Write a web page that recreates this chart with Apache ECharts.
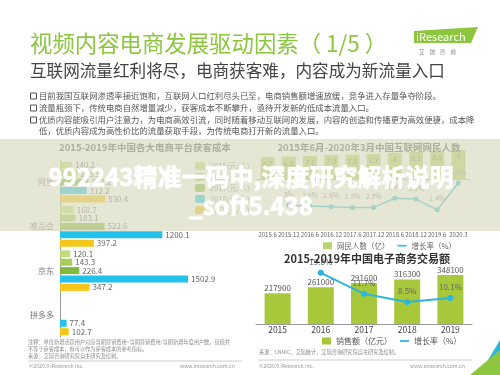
<!DOCTYPE html>
<html>
<head>
<meta charset="utf-8">
<script src="https://cdn.jsdelivr.net/npm/echarts@6/dist/echarts.min.js"></script>
<style>
html, body { margin: 0; padding: 0; background: #fff; }
#wrap { position: relative; width: 500px; height: 375px; }
#main, #mask { position: absolute; left: 0; top: 0; width: 500px; height: 375px; }
</style>
</head>
<body>
<div id="wrap">
	<div id="main"></div>
	<div id="mask"></div>
</div>
<script>
// 获客成本（元/人）
var costCategories = ['阿里', '唯品会', '京东', '拼多多'];
var costYears = ['2015(元/人)', '2016(元/人)', '2017(元/人)', '2018(元/人)', '2019(元/人)'];
var cost2015 = [140.2, 160.7, 120.1, null];
var cost2016 = [203.5, 183.1, 143.3, null];
var cost2017 = [333.2, 522.6, 226.4, null];
var cost2018 = [312.2, 1200.1, 1502.9, 77.4];
var cost2019 = [530.4, 397.2, 347.2, 102.7];
var costColors = ['#bfdc78', '#a5cf58', '#82b83e', '#22c2ea', '#f6c61a'];

// 网民人数
var netMonths = ['2015.6', '2015.12', '2016.6', '2016.12', '2017.6', '2017.12', '2018.6', '2018.12', '2019.6', '2020.3'];
var netUsers = [6.7, 6.9, 7.1, 7.3, 7.5, 7.7, 8.0, 8.3, 8.5, 9.0];
var netGrowth = [null, 3.0, 2.9, 2.8, 2.7, 2.7, 3.9, 3.8, 2.4, 5.9];

// 电子商务交易额
var ecYears = ['2015', '2016', '2017', '2018', '2019'];
var ecSales = [217900, 261000, 291600, 316300, 348100];
var ecGrowth = [null, 19.8, 11.7, 8.5, 10.1];

var FONT = "'Noto Sans CJK SC', 'Noto Sans', sans-serif";

var bullets = [
	'目前我国互联网渗透率接近饱和，互联网人口红利尽头已至，电商销售额增速放缓，竞争进入存量争夺阶段。',
	'流量瓶颈下，传统电商自然增量减少，获客成本不断攀升，亟待开发新的低成本流量入口。',
	'优质内容能吸引用户注意力，为电商高效引流，同时随着移动互联网的发展，内容的创造和传播更为高效便捷，成本降',
	'低，优质内容成为高性价比的流量获取手段，为传统电商打开新的流量入口。'
];

function txt(x, y, text, size, color) {
	return {
		type: 'text', x: x, y: y, z: 5,
		style: { text: text, fontSize: size, fill: color, fontFamily: FONT, textVerticalAlign: 'middle' }
	};
}

function costSeries(name, data, color) {
	return {
		name: name, type: 'bar', xAxisIndex: 0, yAxisIndex: 0,
		data: data, barWidth: 7, barGap: '20%',
		itemStyle: { color: color },
		label: { show: true, position: 'right', distance: 3, fontSize: 8, color: '#666', fontFamily: FONT }
	};
}

var graphics = [];
graphics.push(txt(30, 43, '视频内容电商发展驱动因素（ 1/5 ）', 22.4, '#8cc63f'));
graphics.push(txt(30, 71, '互联网流量红利将尽，电商获客难，内容成为新流量入口', 16.6, '#444'));
var by = [96, 108, 120, 131];
for (var i = 0; i < bullets.length; i++) {
	if (i < 3) {
		graphics.push({ type: 'rect', z: 5, shape: { x: 30.5, y: by[i] - 3, width: 6, height: 6 }, style: { fill: 'none', stroke: '#555', lineWidth: 1 } });
	}
	graphics.push(txt(39, by[i], bullets[i], 8.4, '#555'));
}
// logo
graphics.push({ type: 'polygon', z: 5, shape: { points: [[414, 31], [478, 27], [471, 43], [414, 43]] }, style: { fill: '#8cc63f' } });
graphics.push(txt(416, 36.5, 'iResearch', 11, '#fff'));
graphics.push(txt(419, 52, '艾    瑞    咨    询', 5.5, '#888'));

// notes & footers
graphics.push(txt(28, 342, '注释：单位新增活跃用户对应当期营销费用=当期营销费用/当期新增年度用户数，该值并', 5.2, '#888'));
graphics.push(txt(28, 349, '不等于获客成本，但可以作为获客成本的参考指标。', 5.2, '#888'));
graphics.push(txt(28, 356, '来源：艾瑞咨询研究院自主研究及绘制。', 5.2, '#888'));
graphics.push({ type: 'line', z: 5, shape: { x1: 28, y1: 361, x2: 242, y2: 361 }, style: { stroke: '#ccc', lineWidth: 1 } });
graphics.push(txt(29, 366.5, '©2020.9 iResearch Inc.', 5.2, '#999'));
graphics.push(txt(180, 366.5, 'www.iresearch.com.cn', 5.2, '#999'));
graphics.push(txt(259, 352, '来源：CNNIC，艾瑞统计，艾瑞咨询研究院自主研究及绘制。', 5.2, '#888'));
graphics.push({ type: 'line', z: 5, shape: { x1: 258, y1: 360, x2: 472, y2: 360 }, style: { stroke: '#ccc', lineWidth: 1 } });
graphics.push(txt(259, 366.5, '©2020.9 iResearch Inc.', 5.2, '#999'));
graphics.push(txt(410, 366.5, 'www.iresearch.com.cn', 5.2, '#999'));
// corner
graphics.push({ type: 'polygon', z: 5, shape: { points: [[482, 370], [500, 340], [500, 353]] }, style: { fill: '#2bb5de' } });
graphics.push({ type: 'polygon', z: 6, shape: { points: [[470, 375], [500, 350], [500, 375]] }, style: { fill: '#8cc63f' } });
graphics.push(txt(488, 366, '7', 8, '#fff'));

var option = {
	animation: false,
	textStyle: { fontFamily: FONT },
	title: [
		{ text: '2015-2019年中国各大电商平台获客成本', left: 140, top: 138, textAlign: 'center',
			textStyle: { fontSize: 9.5, fontWeight: 'bold', color: '#555' } },
		{ text: '2015年6月-2020年3月中国互联网网民人数', left: 364, top: 138, textAlign: 'center',
			textStyle: { fontSize: 9.5, fontWeight: 'bold', color: '#555' } },
		{ text: '2015-2019年中国电子商务交易额', left: 362, top: 248, textAlign: 'center',
			textStyle: { fontSize: 11, fontWeight: 'bold', color: '#333' } }
	],
	legend: [
		{ data: costYears, orient: 'vertical', left: 190, top: 157, itemWidth: 10, itemHeight: 8, itemGap: 3,
			textStyle: { fontSize: 7.5, color: '#888' } },
		{ data: [{ name: '网民人数（亿）', icon: 'rect' }, { name: '增长率（%）', icon: 'path://M0,0 L10,0 L10,2 L0,2 Z' }],
			left: 318, top: 237, itemWidth: 9, itemHeight: 7, itemGap: 8, symbolKeepAspect: true,
			textStyle: { fontSize: 7.5, color: '#666' } },
		{ data: [{ name: '销售额（亿元）', icon: 'rect' }, { name: '增长率（%）\u200b', icon: 'path://M0,0 L10,0 L10,2 L0,2 Z' }],
			left: 317, top: 332, itemWidth: 9, itemHeight: 7, itemGap: 8, symbolKeepAspect: true,
			textStyle: { fontSize: 8, color: '#555' } }
	],
	grid: [
		{ left: 60, top: 160, width: 150, height: 177 },
		{ left: 257, top: 148, width: 212, height: 80 },
		{ left: 256, top: 262, width: 216, height: 62 }
	],
	xAxis: [
		{ type: 'value', gridIndex: 0, min: 0, max: 1760, show: false },
		{ type: 'category', gridIndex: 1, data: netMonths,
			axisLine: { lineStyle: { color: '#bbb' } }, axisTick: { show: false },
			axisLabel: { interval: 0, fontSize: 6, color: '#666', margin: 4 } },
		{ type: 'category', gridIndex: 2, data: ecYears,
			axisLine: { lineStyle: { color: '#999' } }, axisTick: { show: false },
			axisLabel: { fontSize: 8.5, color: '#444', margin: 2 } }
	],
	yAxis: [
		{ type: 'category', gridIndex: 0, data: costCategories, inverse: true,
			axisLine: { lineStyle: { color: '#999' } }, axisTick: { show: false },
			axisLabel: { fontSize: 8, color: '#777', margin: 6 } },
		{ type: 'value', gridIndex: 1, min: -15, max: 9.5, show: false },
		{ type: 'value', gridIndex: 1, min: 0, max: 10.5, show: false },
		{ type: 'value', gridIndex: 2, min: 0, max: 440000, show: false },
		{ type: 'value', gridIndex: 2, min: 0, max: 24, show: false }
	],
	series: [
		costSeries(costYears[0], cost2015, costColors[0]),
		costSeries(costYears[1], cost2016, costColors[1]),
		costSeries(costYears[2], cost2017, costColors[2]),
		costSeries(costYears[3], cost2018, costColors[3]),
		costSeries(costYears[4], cost2019, costColors[4]),
		{
			name: '网民人数（亿）', type: 'bar', xAxisIndex: 1, yAxisIndex: 1, data: netUsers, barWidth: 14,
			itemStyle: { color: '#b9d46a' },
			label: { show: true, position: 'insideTop', distance: 3, fontSize: 7, color: '#777' }
		},
		{
			name: '增长率（%）', type: 'line', xAxisIndex: 1, yAxisIndex: 2, data: netGrowth,
			symbol: 'circle', symbolSize: 5, itemStyle: { color: '#3fc0d8' }, lineStyle: { color: '#3fc0d8', width: 1.5 },
			label: { show: true, position: 'top', distance: 5, fontSize: 7, color: '#888', formatter: '{c}%' }
		},
		{
			name: '销售额（亿元）', type: 'bar', xAxisIndex: 2, yAxisIndex: 3, data: ecSales, barWidth: 26,
			itemStyle: { color: '#a8c83c' },
			label: { show: true, position: 'top', distance: 1, fontSize: 8, color: '#555' }
		},
		{
			name: '增长率（%）\u200b', type: 'line', xAxisIndex: 2, yAxisIndex: 4, data: ecGrowth,
			symbol: 'circle', symbolSize: 6, itemStyle: { color: '#2bb5de' }, lineStyle: { color: '#2bb5de', width: 2 },
			label: { show: true, position: 'top', distance: 4, fontSize: 8, color: '#666', formatter: '{c}%' }
		}
	],
	graphic: graphics
};

var myChart = echarts.init(document.getElementById('main'));
myChart.setOption(option);

// translucent band + watermark text, drawn on a second layer above the charts
var maskChart = echarts.init(document.getElementById('mask'));
maskChart.setOption({
	animation: false,
	backgroundColor: 'transparent',
	graphic: [
		{ type: 'rect', shape: { x: 0, y: 139, width: 500, height: 92 }, style: { fill: 'rgba(218,217,191,0.67)' } },
		{ type: 'text', x: 251, y: 177,
			style: { text: '992243精准一码中,深度研究解析说明', fontSize: 24, fontWeight: 'bold', fill: '#fff', fontFamily: FONT,
				textAlign: 'center', textVerticalAlign: 'middle', stroke: '#fff', lineWidth: 0.8 } },
		{ type: 'text', x: 251, y: 206,
			style: { text: '_soft5.438', fontSize: 24, fontWeight: 'bold', fill: '#fff', fontFamily: FONT,
				textAlign: 'center', textVerticalAlign: 'middle', stroke: '#fff', lineWidth: 0.8 } }
	]
});
</script>
</body>
</html>
